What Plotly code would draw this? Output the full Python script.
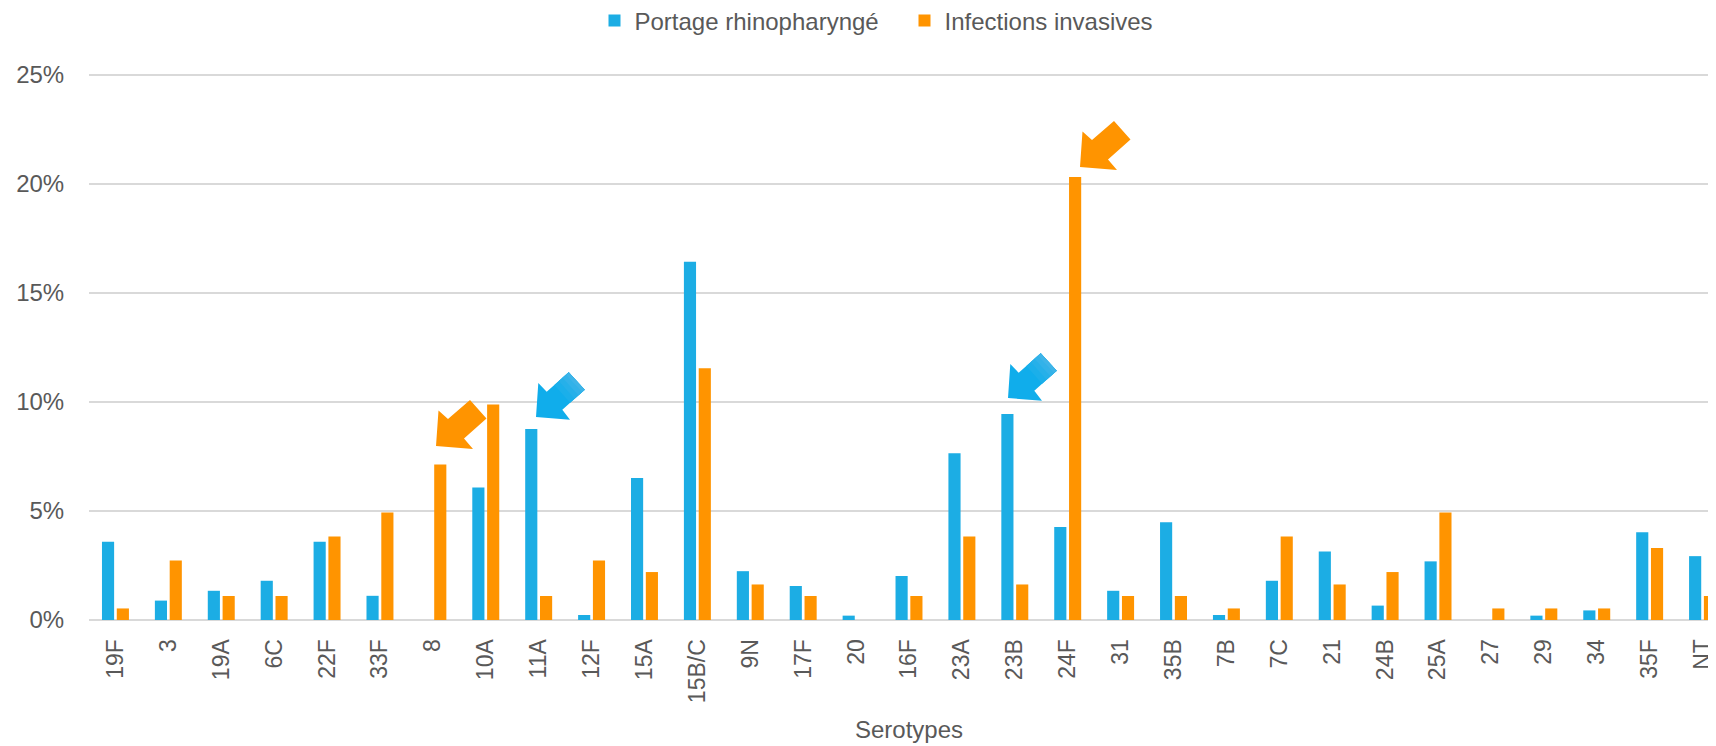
import plotly.graph_objects as go

serotypes = ["19F","3","19A","6C","22F","33F","8","10A","11A","12F","15A","15B/C","9N","17F","20","16F",
             "23A","23B","24F","31","35B","7B","7C","21","24B","25A","27","29","34","35F","NT"]
portage = [3.59,0.89,1.34,1.80,3.59,1.11,0,6.08,8.76,0.23,6.52,16.44,2.24,1.56,0.20,2.02,
           7.65,9.45,4.27,1.34,4.49,0.23,1.80,3.14,0.66,2.69,0,0.20,0.44,4.03,2.93]
invasives = [0.53,2.73,1.10,1.10,3.83,4.93,7.13,9.89,1.10,2.73,2.20,11.55,1.63,1.10,0,1.10,
             3.83,1.63,20.33,1.10,1.10,0.53,3.83,1.63,2.20,4.93,0.53,0.53,0.53,3.30,1.10]
y_ticks = [0,5,10,15,20,25]
y_labels = ["0%","5%","10%","15%","20%","25%"]

BLUE = "#1CADE4"
ORANGE = "#FF9400"
TEXT = "#595959"
GRID = "#D9D9D9"
FONT = "Liberation Sans, Arial, sans-serif"

# The page adds an 8px body margin, so the figure is laid out 8px up and left.
# As in the reference, the plot runs about 13px past the right edge of the window.
PAGE = 8
W, H = 1729-PAGE, 746-PAGE
L, T, B = 89-PAGE, 74-PAGE, 620-PAGE
Y_TOP = 25.05   # a hair above 25 so the top gridline is drawn

ORANGE_OUTLINE = [(0,0),(2.5,-35.5),(12,-27),(34,-46),(50.5,-27.5),(28,-7.5),(37,3)]
BLUE_OUTLINE = [(0,0),(2.3,-34),(10.7,-25.3),(32.7,-44.7),(48.7,-27.3),(26.3,-7.3),(34,2.7)]
TAIL_NEAR = (BLUE_OUTLINE[2], BLUE_OUTLINE[5])
TAIL_FAR = (BLUE_OUTLINE[3], BLUE_OUTLINE[4])
orange_arrows = [(1080-PAGE,167-PAGE),(436-PAGE,446-PAGE)]
blue_arrows = [(536-PAGE,417-PAGE),(1008-PAGE,398-PAGE)]
BLUE_ARROW = "#10ADEB"
blue_bands = [(0.35,"#1BAFEA"),(0.55,"#26B0E9"),(0.72,"#32B2E9"),(0.88,"#3EB4E8")]

def px(x, y):
    return (x-L)/(W-L), (B-y)/(B-T)

def path_of(tx, ty, outline):
    pts = [px(tx+dx, ty+dy) for dx, dy in outline]
    return "M " + " L ".join(f"{a:.5f} {b:.5f}" for a, b in pts) + " Z"

def lerp(p, q, t):
    return (p[0]+(q[0]-p[0])*t, p[1]+(q[1]-p[1])*t)

def poly(tx, ty, outline, color):
    return dict(type="path", xref="paper", yref="paper", path=path_of(tx, ty, outline),
                fillcolor=color, line=dict(width=0), layer="above")

shapes = [poly(tx, ty, ORANGE_OUTLINE, ORANGE) for tx, ty in orange_arrows]
for tx, ty in blue_arrows:
    shapes.append(poly(tx, ty, BLUE_OUTLINE, BLUE_ARROW))
    for t, c in blue_bands:
        band = [lerp(TAIL_NEAR[0], TAIL_FAR[0], t), TAIL_FAR[0], TAIL_FAR[1], lerp(TAIL_NEAR[1], TAIL_FAR[1], t)]
        shapes.append(poly(tx, ty, band, c))

fig = go.Figure()
fig.add_bar(x=serotypes, y=portage, name="Portage rhinopharyngé", marker=dict(color=BLUE, line=dict(width=0)))
fig.add_bar(x=serotypes, y=invasives, name="Infections invasives", marker=dict(color=ORANGE, line=dict(width=0)))

legend_top = -9.6
fig.update_layout(
    width=W, height=H, autosize=False,
    margin=dict(l=L, r=0, t=T, b=H-B, pad=0, autoexpand=False),
    paper_bgcolor="white", plot_bgcolor="white",
    barmode="group", bargap=0.44, bargroupgap=0.18,
    font=dict(family=FONT, color=TEXT, size=24),
    legend=dict(orientation="h", x=(594.5-PAGE-L)/(W-L), xanchor="left", y=(B-legend_top)/(B-T),
                yanchor="top", font=dict(size=24, color=TEXT), bgcolor="rgba(0,0,0,0)", traceorder="normal",
                entrywidth=265, entrywidthmode="pixels"),
    shapes=shapes,
)
fig.update_xaxes(type="category", categoryorder="array", categoryarray=serotypes,
                 range=[-0.5, 30.5], tickmode="array", tickvals=serotypes, ticktext=serotypes,
                 tickangle=-90, tickfont=dict(size=23, color=TEXT), ticks="outside", ticklen=9,
                 tickcolor="rgba(0,0,0,0)", showgrid=False, showline=False, zeroline=False,
                 title=dict(text="Serotypes", font=dict(size=24, color=TEXT), standoff=19), automargin=False)
fig.update_yaxes(range=[0,Y_TOP], tickmode="array", tickvals=y_ticks, ticktext=y_labels,
                 tickfont=dict(size=24, color=TEXT), gridcolor=GRID, gridwidth=2,
                 zeroline=True, zerolinecolor=GRID, zerolinewidth=2, showline=False, ticks="outside",
                 ticklen=19, tickcolor="rgba(0,0,0,0)", automargin=False)

fig.write_html("out.html", config=dict(displayModeBar=False))
